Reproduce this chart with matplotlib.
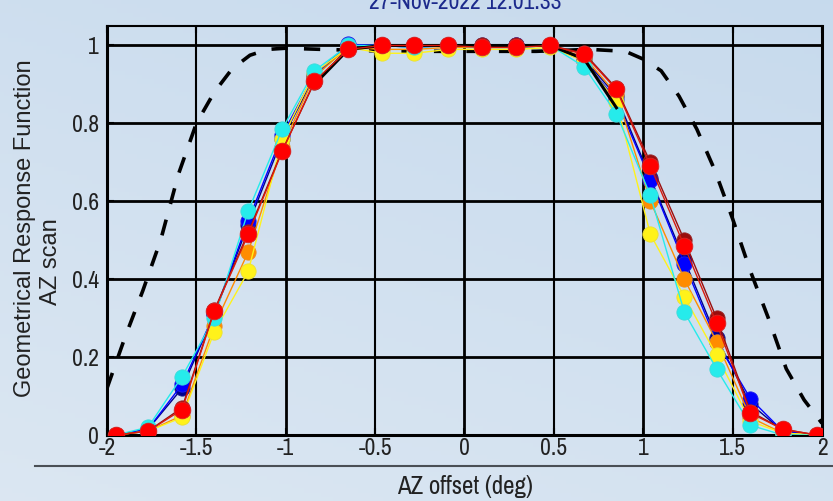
import numpy as np
import matplotlib
matplotlib.use("Agg")
import matplotlib.pyplot as plt
from matplotlib import font_manager as fm

# ---- data ----
az = [-1.95, -1.77, -1.58, -1.40, -1.21, -1.02, -0.84, -0.65, -0.46, -0.28, -0.09,
      0.10, 0.29, 0.48, 0.67, 0.85, 1.04, 1.23, 1.41, 1.60, 1.78, 1.97]

navy = [0.0, 0.015, 0.12, 0.31, 0.54, 0.76, 0.92, 1.0, 1.0, 1.0, 1.0,
        1.0, 1.0, 1.0, 0.965, 0.87, 0.66, 0.45, 0.25, 0.08, 0.01, 0.0]
blue = [0.0, 0.015, 0.13, 0.31, 0.55, 0.77, 0.925, 1.003, 1.0, 0.995, 1.0,
        0.995, 1.0, 0.998, 0.96, 0.86, 0.655, 0.44, 0.24, 0.093, 0.01, 0.0]
cyan = [0.0, 0.02, 0.15, 0.30, 0.575, 0.785, 0.935, 1.0, 1.0, 0.995, 1.0,
        0.995, 0.995, 1.0, 0.945, 0.825, 0.615, 0.315, 0.17, 0.025, 0.0, 0.0]
yellow = [0.0, 0.01, 0.045, 0.265, 0.42, 0.76, 0.93, 0.995, 0.98, 0.98, 0.99,
          0.99, 0.99, 0.995, 0.96, 0.855, 0.515, 0.355, 0.205, 0.035, 0.005, 0.0]
orange = [0.0, 0.01, 0.05, 0.28, 0.47, 0.74, 0.92, 0.995, 0.99, 0.99, 0.995,
          0.995, 0.995, 1.0, 0.97, 0.875, 0.60, 0.40, 0.24, 0.045, 0.005, 0.0]
darkred = [0.0, 0.01, 0.07, 0.32, 0.52, 0.73, 0.905, 0.99, 1.0, 1.0, 1.0,
           1.0, 1.0, 1.0, 0.98, 0.89, 0.70, 0.50, 0.30, 0.06, 0.015, 0.0]
red = [0.0, 0.01, 0.065, 0.318, 0.515, 0.728, 0.908, 0.99, 1.0, 1.0, 1.0,
       0.995, 0.995, 1.0, 0.977, 0.887, 0.69, 0.485, 0.287, 0.056, 0.015, 0.0]

mean_x = [-0.84, -0.65, -0.46, -0.28, -0.09, 0.10, 0.29, 0.48, 0.67, 0.85]
mean_y = [0.90, 0.99, 1.0, 1.0, 1.0, 1.0, 1.0, 1.0, 0.965, 0.84]

model_x = [-2.0, -1.9, -1.8, -1.7, -1.6, -1.5, -1.4, -1.3, -1.2, -1.1, -1.0, -0.8,
           -0.4, 0.0, 0.4, 0.7, 0.9, 1.0, 1.1, 1.2, 1.3, 1.4, 1.5, 1.6, 1.7, 1.8, 1.9, 2.0]
model_y = [0.12, 0.25, 0.37, 0.50, 0.67, 0.80, 0.88, 0.94, 0.975, 0.99, 0.993, 0.99,
           0.985, 0.985, 0.985, 0.99, 0.985, 0.965, 0.935, 0.87, 0.785, 0.68, 0.555,
           0.42, 0.30, 0.17, 0.09, 0.03]

xticks = [-2, -1.5, -1, -0.5, 0, 0.5, 1, 1.5, 2]
xticklabels = ["-2", "-1.5", "-1", "-0.5", "0", "0.5", "1", "1.5", "2"]
yticks = [0, 0.2, 0.4, 0.6, 0.8, 1]
yticklabels = ["0", "0.2", "0.4", "0.6", "0.8", "1"]

# find a narrow font if any
narrow_props = None
for f in fm.fontManager.ttflist:
    n = f.name.lower()
    if ("narrow" in n or "condensed" in n) and f.weight in (400, "normal", "regular") and f.style == "normal":
        narrow_props = fm.FontProperties(fname=f.fname)
        break
if narrow_props is None:
    for f in fm.fontManager.ttflist:
        if "condensed" in f.fname.lower() and "bold" not in f.fname.lower() and "oblique" not in f.fname.lower():
            narrow_props = fm.FontProperties(fname=f.fname)
            break
if narrow_props is None:
    narrow_props = fm.FontProperties(family="Liberation Sans")

def nfont(size):
    p = narrow_props.copy()
    p.set_size(size)
    return p

W, H = 833, 501
fig = plt.figure(figsize=(W / 100, H / 100), dpi=100)

# background gradient
bg = fig.add_axes([0, 0, 1, 1], zorder=-10)
gx, gy = np.meshgrid(np.linspace(0, 1, 200), np.linspace(0, 1, 120))
t = np.clip(0.35 * gx + 0.65 * gy, 0, 1)
c0 = np.array([0.86, 0.905, 0.95])
c1 = np.array([0.78, 0.855, 0.93])
img = c0[None, None, :] * (1 - t[..., None]) + c1[None, None, :] * t[..., None]
bg.imshow(img, aspect="auto", extent=[0, 1, 0, 1], origin="lower")
bg.plot([35 / W, 1], [1 - 466 / H, 1 - 466 / H], color="#4a4f55", lw=1.5)
bg.set_xlim(0, 1)
bg.set_ylim(0, 1)
bg.axis("off")

ax = fig.add_axes([107 / W, 1 - 435 / H, (822 - 107) / W, (435 - 26) / H])
ax.set_facecolor("none")

# grid
for gxv in [-1.5, -1, -0.5, 0, 0.5, 1, 1.5]:
    ax.axvline(gxv, color="black", lw=2.0 if gxv in (-1, 0, 1) else 1.5, zorder=1)
for gyv in [0.2, 0.4, 0.6, 0.8, 1.0]:
    ax.axhline(gyv, color="black", lw=2.0, zorder=1)

ax.plot(model_x, model_y, color="black", lw=2.6, linestyle=(0, (4.5, 4.5)), zorder=2)

series = [
    (navy, (0.0, 0.0, 0.55)),
    (blue, (0.0, 0.0, 1.0)),
    (orange, (1.0, 0.55, 0.0)),
    (yellow, (1.0, 0.95, 0.1)),
    (cyan, (0.15, 0.92, 0.92)),
    (darkred, (0.6, 0.05, 0.05)),
]
for ys, col in series:
    ax.plot(az, ys, color=col, lw=1.0, marker="o", ms=11, mfc=col,
            mec=tuple(0.8 * c + 0.2 * 0.6 for c in col), mew=0.6, zorder=3)
ax.plot(mean_x, mean_y, color="black", lw=2.2, zorder=4)
ax.plot(az, red, color=(0.85, 0.1, 0.05), lw=1.0, marker="o", ms=12, mfc="red",
        mec=(0.85, 0.15, 0.15), mew=0.6, zorder=5)

ax.set_xlim(-2, 2)
ax.set_ylim(0, 1.05)
ax.set_xticks(xticks)
ax.set_xticklabels(xticklabels, fontproperties=nfont(17), color="#222222")
ax.set_yticks(yticks)
ax.set_yticklabels(yticklabels, fontproperties=nfont(17), color="#222222")
ax.tick_params(axis="x", direction="in", length=5, width=1.5, top=True, pad=2)
ax.tick_params(axis="y", direction="in", length=5, width=1.5, right=False, pad=6)
for s in ax.spines.values():
    s.set_linewidth(2.2)
    s.set_color("black")
ax.spines["top"].set_linewidth(1.5)

ax.set_xlabel("AZ offset (deg)", fontproperties=nfont(18), labelpad=12, color="#222222")
fig.text(25 / W, 1 - 228 / H, "Geometrical Response Function", rotation=90,
         ha="center", va="center", fontsize=17, color="#222222",
         fontfamily=["Liberation Sans", "DejaVu Sans"])
fig.text(51 / W, 1 - 262 / H, "AZ scan", rotation=90,
         ha="center", va="center", fontsize=17, color="#222222",
         fontfamily=["Liberation Sans", "DejaVu Sans"])

fig.text(465 / W, 1 - 9 / H, "27-Nov-2022 12:01:33", ha="center", va="baseline",
         fontproperties=nfont(17), color="#1c2a8c")

fig.savefig("out.png", dpi=100)
